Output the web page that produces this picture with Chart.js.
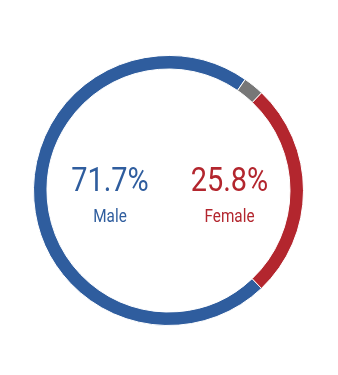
<!DOCTYPE html>
<html>
<head>
<meta charset="utf-8">
<script src="https://cdn.jsdelivr.net/npm/chart.js@4"></script>
<style>
  html, body { margin: 0; padding: 0; background: #fff; }
  #wrap { width: 338px; height: 375px; position: relative; }
</style>
</head>
<body>
<div id="wrap"><canvas id="gender_chart"></canvas></div>
<script>
// data
const labels = ["Male", "Other", "Female"];
const values = [71.7, 2.5, 25.8];
const colors = ["#2f5d9e", "#777777", "#b3262e"];
// which slices get a big label in the middle
const shown = ["Male", "Female"];

const ctx = document.getElementById("gender_chart");

// draws the percent + name inside the ring (squeezed a bit, the original font is narrow)
const centerText = {
  id: "centerText",
  afterDraw(chart) {
    const c = chart.ctx;
    const arc = chart.getDatasetMeta(0).data[0];
    const cx = arc.x, cy = arc.y;
    const offs = [-58.5, 61];
    shown.forEach((name, k) => {
      const i = labels.indexOf(name);
      c.save();
      c.translate(cx + offs[k], cy);
      c.scale(0.85, 1);
      c.textAlign = "center";
      c.textBaseline = "alphabetic";
      c.fillStyle = colors[i];
      c.font = "400 34px Roboto";
      c.fillText(values[i].toFixed(1) + "%", 0, 0.5);
      c.font = "400 18px Roboto";
      c.fillText(name, 0, 31);
      c.restore();
    });
  }
};

new Chart(ctx, {
  type: "doughnut",
  data: {
    labels: labels,
    datasets: [
      {
        data: values,
        backgroundColor: colors,
        borderColor: "#ffffff",
        borderWidth: 1,
      },
    ],
  },
  options: {
    responsive: true,
    maintainAspectRatio: false,
    animation: false,
    cutout: "90%",
    rotation: 136.5,
    layout: { padding: { left: 33, right: 34, top: 55, bottom: 49 } },
    plugins: {
      legend: { display: false },
      tooltip: { enabled: false },
    },
  },
  plugins: [centerText],
});
</script>
</body>
</html>
